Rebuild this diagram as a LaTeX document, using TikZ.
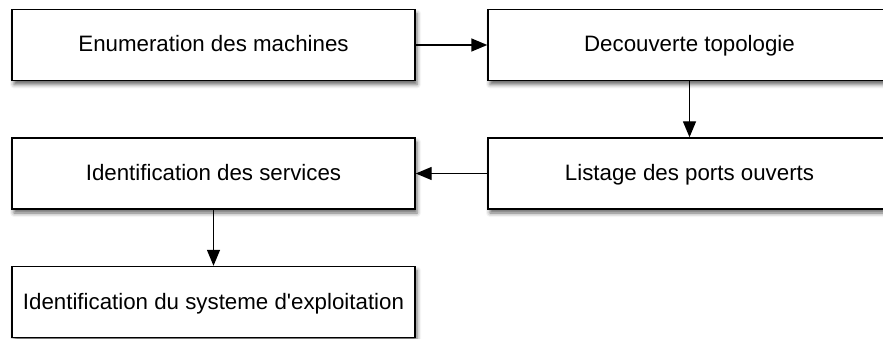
\documentclass[tikz,border=0pt]{standalone}
\usepackage{fontspec}
\setmainfont[Ligatures=TeXOff]{Liberation Sans}
\usetikzlibrary{arrows.meta,shadows.blur}
\begin{document}
\begin{tikzpicture}[x=1pt,y=1pt,
  stepbox/.style={draw=black,line width=1.4pt,fill=white,minimum width=403pt,minimum height=71pt,inner sep=0pt,
    text height=18pt,text depth=4pt,
    font=\fontsize{22.3}{25}\selectfont,
    blur shadow={shadow xshift=2pt,shadow yshift=-4pt,shadow blur radius=4pt,shadow opacity=60}},
  conn/.style={line width=1.4pt,-{Triangle[length=16pt,width=13pt]}}]
\useasboundingbox (0,0) rectangle (883,-339);
\node[stepbox] (enum) at (213.5,-45) {Enumeration des machines};
\node[stepbox] (topo) at (689.5,-45) {Decouverte topologie};
\node[stepbox] (ports) at (689.5,-173.5) {Listage des ports ouverts};
\node[stepbox] (serv) at (213.5,-173.5) {Identification des services};
\node[stepbox] (os) at (213.5,-302) {Identification du systeme d'exploitation};
\draw[conn] (enum) -- (topo);
\draw[conn] (topo) -- (ports);
\draw[conn] (ports) -- (serv);
\draw[conn] (serv) -- (os);
\end{tikzpicture}
\end{document}
